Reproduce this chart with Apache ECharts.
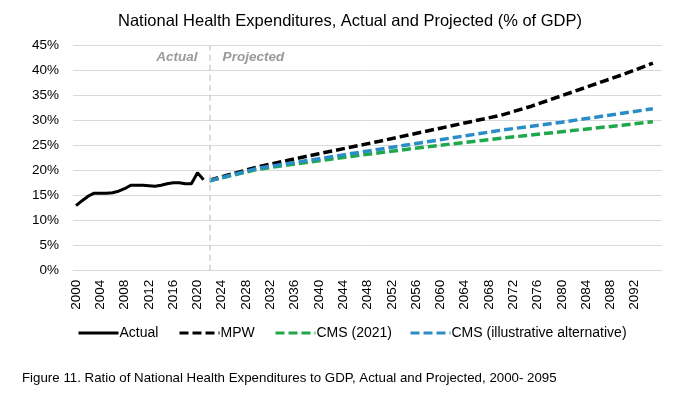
<!DOCTYPE html>
<html><head><meta charset="utf-8">
<script src="https://cdn.jsdelivr.net/npm/echarts@6/dist/echarts.min.js"></script>
<style>html,body{margin:0;padding:0;background:#fff}#c{width:700px;height:394px}</style>
</head><body><div id="c"></div>
<script>
// Categories: years 2000..2095 plus one trailing blank slot (as in the source chart)
var years = [];
for (var y = 2000; y <= 2095; y++) years.push(String(y));
years.push('');

// Actual (2000-2021)
var actualYears = ['2000','2001','2002','2003','2004','2005','2006','2007','2008','2009','2010','2011','2012','2013','2014','2015','2016','2017','2018','2019','2020','2021'];
var actualVals = [13.0,14.0,14.9,15.5,15.5,15.5,15.6,15.9,16.4,17.1,17.1,17.1,17.0,16.9,17.1,17.4,17.6,17.6,17.4,17.4,19.6,18.2];

// MPW projection
var mpwYears = ['2022','2030','2040','2050','2060','2070','2075','2080','2085','2090','2095'];
var mpwVals  = [18.1, 20.8, 23.4, 25.9, 28.5, 31.1, 32.9, 35.0, 37.1, 39.2, 41.5];

// CMS (2021)
var cmsYears = ['2022','2030','2040','2050','2060','2070','2080','2090','2095'];
var cmsVals  = [18.0, 20.3, 22.0, 23.6, 25.1, 26.5, 27.8, 29.1, 29.8];

// CMS (illustrative alternative)
var altYears = ['2022','2030','2040','2050','2060','2070','2080','2090','2095'];
var altVals  = [18.0, 20.5, 22.4, 24.3, 26.2, 28.1, 29.7, 31.5, 32.4];

var seriesNames = ['Actual','MPW','CMS (2021)','CMS (illustrative alternative)'];

function pairs(xs, vs){ return xs.map(function(x,i){ return [x, vs[i]]; }); }

var FONT = '"Liberation Sans", Arial, sans-serif';
var chart = echarts.init(document.getElementById('c'));
var dash = [9, 4];
var legendLefts = [77, 178, 274, 409];
chart.setOption({
  animation: false,
  textStyle: { fontFamily: FONT },
  title: {
    text: 'National Health Expenditures, Actual and Projected (% of GDP)',
    left: 'center', top: 8,
    textStyle: { fontFamily: FONT, fontSize: 16.5, fontWeight: 'normal', color: '#000' }
  },
  grid: { left: 73, right: 38, top: 45.7, bottom: 123.3, containLabel: false },
  legend: seriesNames.map(function(n, i){
    return {
      data: [n], left: legendLefts[i], top: 326, itemGap: 0, itemWidth: 40, itemHeight: 12,
      padding: 0,
      itemStyle: { opacity: 0 },
      lineStyle: { width: 3 },
      textStyle: { fontFamily: FONT, fontSize: 14, color: '#000', padding: [0,0,0,-4] }
    };
  }),
  xAxis: {
    type: 'category', data: years, boundaryGap: true,
    axisLine: { lineStyle: { color: '#d9d9d9' } },
    axisTick: { show: false },
    axisLabel: { interval: 3, rotate: 90, fontSize: 13.5, color: '#000', margin: 9, fontFamily: FONT }
  },
  yAxis: {
    type: 'value', min: 0, max: 45, interval: 5,
    axisLine: { show: false }, axisTick: { show: false },
    splitLine: { lineStyle: { color: '#d9d9d9' } },
    axisLabel: { formatter: '{value}%', fontSize: 13.5, color: '#000', margin: 14, fontFamily: FONT }
  },
  series: [
    { name: 'Actual', type: 'line', symbol: 'none', data: pairs(actualYears, actualVals),
      lineStyle: { color: '#000', width: 3 }, itemStyle: { color: '#000' },
      markLine: { silent: true, symbol: 'none', label: { show: false },
        lineStyle: { color: '#d0d0d0', type: [6,4], width: 1.5 },
        data: [{ xAxis: 21.5 }] } },
    { name: 'MPW', type: 'line', symbol: 'none', data: pairs(mpwYears, mpwVals),
      lineStyle: { color: '#000', width: 3.5, type: dash }, itemStyle: { color: '#000' } },
    { name: 'CMS (2021)', type: 'line', symbol: 'none', data: pairs(cmsYears, cmsVals),
      lineStyle: { color: '#1fa84b', width: 3.5, type: dash }, itemStyle: { color: '#1fa84b' } },
    { name: 'CMS (illustrative alternative)', type: 'line', symbol: 'none', data: pairs(altYears, altVals),
      lineStyle: { color: '#2a8dc8', width: 3.5, type: dash }, itemStyle: { color: '#2a8dc8' } }
  ]
});
// Region labels placed via axis scale
var p = chart.convertToPixel({ gridIndex: 0 }, [21.5, 42.7]);
chart.setOption({
  graphic: [
    { type: 'text', x: p[0] - 12, y: p[1], style: { text: 'Actual', align: 'right', verticalAlign: 'middle',
      font: 'italic bold 13.5px ' + FONT, fill: '#9a9a9a' } },
    { type: 'text', x: p[0] + 13, y: p[1], style: { text: 'Projected', align: 'left', verticalAlign: 'middle',
      font: 'italic bold 13.5px ' + FONT, fill: '#9a9a9a' } },
    { type: 'text', left: 22, top: 372, style: { text: 'Figure 11. Ratio of National Health Expenditures to GDP, Actual and Projected, 2000- 2095',
      font: '13.3px ' + FONT, fill: '#000' } }
  ]
});
</script></body></html>
